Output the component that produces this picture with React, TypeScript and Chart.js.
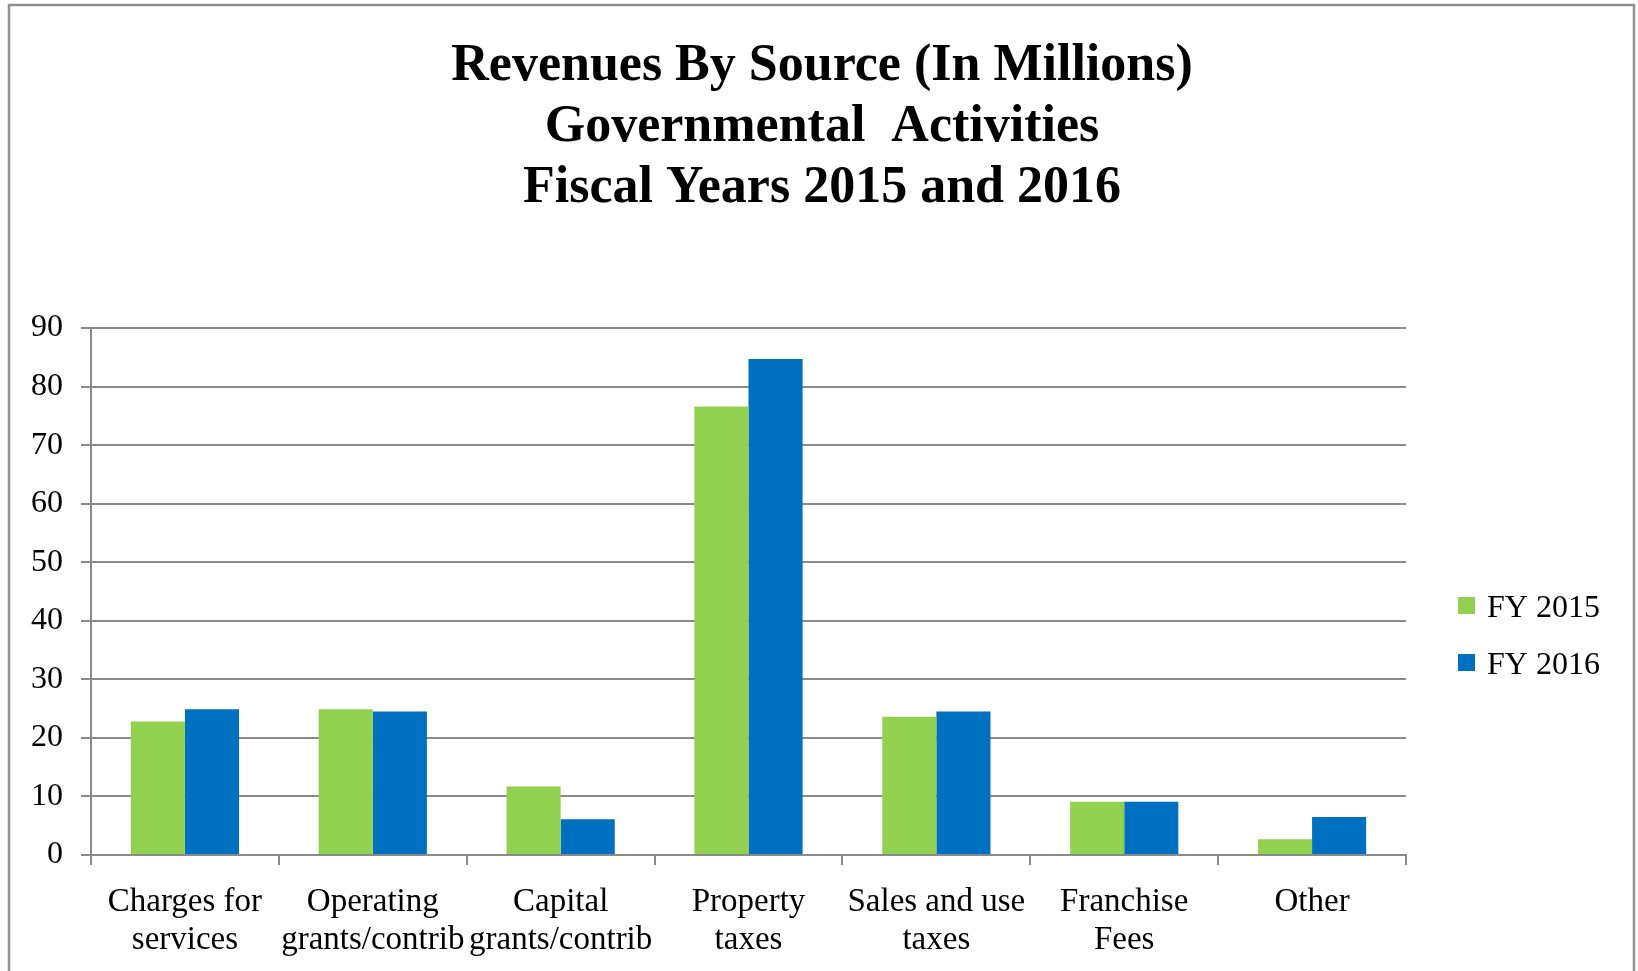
import React, { useEffect, useRef } from "react";
import { Chart, registerables } from "chart.js";

Chart.register(...registerables);

const titleLines = [
  "Revenues By Source (In Millions)",
  "Governmental  Activities",
  "Fiscal Years 2015 and 2016",
];

const categories: string[][] = [
  ["Charges for", "services"],
  ["Operating", "grants/contrib"],
  ["Capital", "grants/contrib"],
  ["Property", "taxes"],
  ["Sales and use", "taxes"],
  ["Franchise", "Fees"],
  ["Other"],
];

const seriesNames = ["FY 2015", "FY 2016"];
const fy2015 = [22.8, 24.9, 11.7, 76.6, 23.6, 9.1, 2.7];
const fy2016 = [24.9, 24.5, 6.1, 84.7, 24.5, 9.1, 6.5];
const seriesColors = ["#92D050", "#0070C0"];

const yMin = 0;
const yMax = 90;
const yStep = 10;

const FONT = "'Liberation Serif', 'Times New Roman', serif";
const GRID = "#8a8a8a";

const framePlugin = {
  id: "frame",
  beforeDraw(chart: any) {
    const { ctx, width, height } = chart;
    ctx.save();
    ctx.fillStyle = "#ffffff";
    ctx.fillRect(0, 0, width, height);
    ctx.strokeStyle = "#8f8f8f";
    ctx.lineWidth = 2.5;
    ctx.strokeRect(9, 5, 1625, height + 20);
    ctx.restore();
  },
};

const titlePlugin = {
  id: "customTitle",
  afterDraw(chart: any) {
    const { ctx } = chart;
    ctx.save();
    ctx.font = `bold 52px ${FONT}`;
    ctx.textBaseline = "middle";
    ctx.textAlign = "center";
    ctx.fillStyle = "#000000";
    titleLines.forEach((line, i) => {
      ctx.fillText(line, 822, 67 + i * 61);
    });
    ctx.restore();
  },
};

const legendPlugin = {
  id: "customLegend",
  afterDraw(chart: any) {
    const { ctx } = chart;
    ctx.save();
    ctx.font = `32px ${FONT}`;
    ctx.textBaseline = "middle";
    ctx.textAlign = "left";
    const ys = [609, 666];
    chart.data.datasets.forEach((ds: any, i: number) => {
      const y = ys[i];
      ctx.fillStyle = ds.backgroundColor;
      ctx.fillRect(1458, y - 12, 17, 17);
      ctx.fillStyle = "#000000";
      ctx.fillText(ds.label, 1487, y);
    });
    ctx.restore();
  },
};

export default function App() {
  const ref = useRef<HTMLCanvasElement | null>(null);

  useEffect(() => {
    if (!ref.current) return;
    const chart = new Chart(ref.current, {
      type: "bar",
      data: {
        labels: categories,
        datasets: [
          {
            label: seriesNames[0],
            data: fy2015,
            backgroundColor: seriesColors[0],
            categoryPercentage: 0.576,
            barPercentage: 1,
          },
          {
            label: seriesNames[1],
            data: fy2016,
            backgroundColor: seriesColors[1],
            categoryPercentage: 0.576,
            barPercentage: 1,
          },
        ],
      },
      options: {
        animation: false,
        responsive: false,
        devicePixelRatio: 1,
        layout: { padding: { left: 0, right: 232, top: 328, bottom: 12 } },
        plugins: {
          legend: { display: false },
          tooltip: { enabled: false },
          title: { display: false },
        },
        scales: {
          x: {
            grid: {
              display: true,
              drawOnChartArea: false,
              drawTicks: true,
              tickLength: 10,
              color: GRID,
              lineWidth: 2,
              offset: true,
            },
            border: { display: true, color: GRID, width: 2 },
            ticks: {
              color: "#000000",
              font: { family: FONT, size: 33, lineHeight: 37.5 / 33 },
              padding: 19,
              maxRotation: 0,
              autoSkip: false,
            },
            afterFit(scale: any) {
              scale.height = 104;
            },
          },
          y: {
            min: yMin,
            max: yMax,
            grid: {
              color: GRID,
              lineWidth: 2,
              drawTicks: true,
              tickLength: 10,
            },
            border: { display: true, color: GRID, width: 2 },
            ticks: {
              stepSize: yStep,
              color: "#000000",
              font: { family: FONT, size: 32 },
              padding: 18,
            },
            afterFit(scale: any) {
              scale.width = 91;
            },
          },
        },
      },
      plugins: [framePlugin, titlePlugin, legendPlugin],
    } as any);
    return () => chart.destroy();
  }, []);

  return (
    <div style={{ position: "absolute", left: 0, top: 0, width: 1638, height: 971, overflow: "hidden" }}>
      <canvas ref={ref} width={1638} height={971} style={{ display: "block" }} />
    </div>
  );
}
